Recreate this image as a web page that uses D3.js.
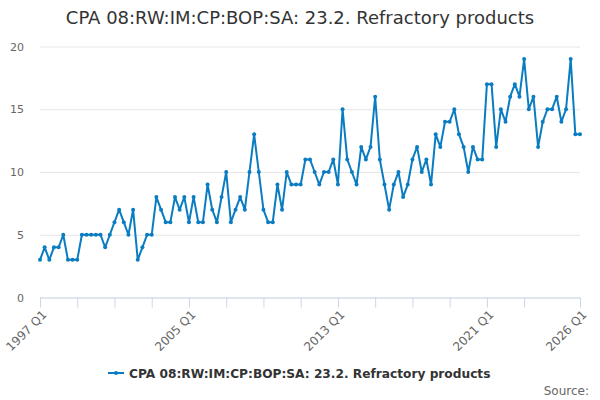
<!DOCTYPE html>
<html>
<head>
<meta charset="utf-8">
<script src="https://cdn.jsdelivr.net/npm/d3@7"></script>
<style>
  body { margin: 0; background: #fff; }
  text { font-family: "DejaVu Sans", sans-serif; }
</style>
</head>
<body>
<div id="chart"></div>
<script>
// quarterly values, 1997 Q1 .. 2026 Q1
var startYear = 1997
var values = [
  3,4,3,4,4,5,3,3,3,5,5,5,5,5,4,5,6,7,6,5,7,3,4,5,5,8,7,6,6,8,7,8,6,
  8,6,6,9,7,6,8,10,6,7,8,7,10,13,10,7,6,6,9,7,10,9,9,9,11,11,10,9,10,10,11,9,
  15,11,10,9,12,11,12,16,11,9,7,9,10,8,9,11,12,10,11,9,13,12,14,14,15,13,
  12,10,12,11,11,17,17,12,15,14,16,17,16,19,15,16,12,14,15,15,16,14,15,19,13,13
]
var yTicks = [0, 5, 10, 15, 20]
var xTickIdx = [0, 8, 16, 24, 32, 40, 48, 56, 64, 72, 80, 88, 96, 104, 116]
var xLabelIdx = [0, 32, 64, 96, 116]
var title = "CPA 08:RW:IM:CP:BOP:SA: 23.2. Refractory products"

var labels = values.map(function(d, i) {
  return (startYear + Math.floor(i / 4)) + " Q" + (i % 4 + 1)
})

var width = 600, height = 400
// plot box (don't call it "top", window.top is read-only)
var plotLeft = 40, plotRight = 580, plotTop = 46.5, plotBottom = 297.5
var color = "#0a7cc1"

var svg = d3.select("#chart").append("svg")
  .attr("width", width)
  .attr("height", height)

var x = d3.scaleLinear().domain([0, values.length - 1]).range([plotLeft, plotRight])
var y = d3.scaleLinear().domain([0, 20]).range([plotBottom, plotTop])

// title
svg.append("text")
  .attr("x", width / 2)
  .attr("y", 24)
  .attr("text-anchor", "middle")
  .style("font-size", "18px")
  .style("fill", "#333")
  .text(title)

// gridlines + y labels
var yAxis = d3.axisLeft(y).tickValues(yTicks).tickSize(-(plotRight - plotLeft)).tickPadding(16)
var gy = svg.append("g").attr("transform", "translate(" + plotLeft + ",0)").call(yAxis)
gy.select(".domain").remove()
gy.selectAll(".tick line").attr("stroke", "#e6e6e6")
gy.selectAll(".tick text")
  .style("font-size", "11px")
  .style("fill", "#666")
  .style("font-family", "DejaVu Sans, sans-serif")

// x axis
var xAxis = d3.axisBottom(x).tickValues(xTickIdx).tickSize(10)
  .tickFormat(function(i) { return xLabelIdx.indexOf(i) >= 0 ? labels[i] : "" })
var gx = svg.append("g").attr("transform", "translate(0," + plotBottom + ")").call(xAxis)
gx.select(".domain").attr("stroke", "#ccd6eb").attr("d", "M" + plotLeft + ",0.5H" + plotRight)
gx.selectAll(".tick line").attr("stroke", "#ccd6eb")
gx.selectAll(".tick text")
  .style("font-size", "12px")
  .style("fill", "#666")
  .style("font-family", "DejaVu Sans, sans-serif")
  .attr("text-anchor", "end")
  .attr("transform", "translate(4,15) rotate(-45)")
  .attr("dy", "0.35em")
  .attr("y", 0)

// line
var line = d3.line()
  .x(function(d, i) { return x(i) })
  .y(function(d) { return y(d) })

svg.append("path")
  .datum(values)
  .attr("fill", "none")
  .attr("stroke", color)
  .attr("stroke-width", 2)
  .attr("stroke-linejoin", "round")
  .attr("d", line)

svg.selectAll("circle.pt")
  .data(values)
  .enter().append("circle")
  .attr("class", "pt")
  .attr("cx", function(d, i) { return x(i) })
  .attr("cy", function(d) { return y(d) })
  .attr("r", 2)
  .attr("fill", color)

// legend
var lg = svg.append("g").attr("transform", "translate(108,373)")
lg.append("line").attr("x1", 0).attr("x2", 16).attr("y1", 0).attr("y2", 0)
  .attr("stroke", color).attr("stroke-width", 2)
lg.append("circle").attr("cx", 8).attr("cy", 0).attr("r", 2).attr("fill", color)
lg.append("text")
  .attr("x", 21)
  .attr("y", 4.5)
  .style("font-size", "12.2px")
  .style("font-weight", "bold")
  .style("fill", "#333")
  .text(title)

svg.append("text")
  .attr("x", 589)
  .attr("y", 395)
  .attr("text-anchor", "end")
  .style("font-size", "12px")
  .style("fill", "#666")
  .text("Source:")
</script>
</body>
</html>
